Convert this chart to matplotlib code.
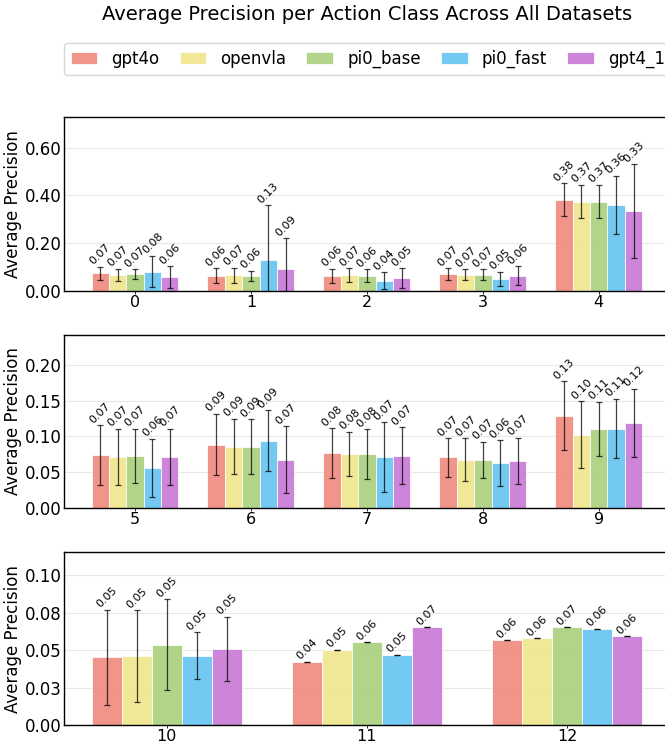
import matplotlib
matplotlib.use("Agg")
import matplotlib.pyplot as plt
import numpy as np
from matplotlib.ticker import MultipleLocator, StrMethodFormatter

# action classes and the model series
classes = list(range(13))
models = ['gpt4o', 'openvla', 'pi0_base', 'pi0_fast', 'gpt4_1']
colors = ['#F08A7E', '#F0E68C', '#AAD07C', '#64C4F0', '#C878D6']

# mean average precision per class
gpt4o_mean = [0.074, 0.064, 0.064, 0.071, 0.381, 0.0739, 0.0885, 0.0767, 0.0706, 0.129, 0.0452, 0.0423, 0.0568]
openvla_mean = [0.068, 0.066, 0.067, 0.067, 0.374, 0.0715, 0.0856, 0.0753, 0.0673, 0.102, 0.0461, 0.0503, 0.0579]
pi0_base_mean = [0.071, 0.064, 0.064, 0.068, 0.374, 0.0725, 0.0856, 0.0753, 0.0673, 0.1106, 0.0537, 0.0552, 0.0653]
pi0_fast_mean = [0.081, 0.130, 0.043, 0.050, 0.360, 0.056, 0.094, 0.071, 0.0626, 0.111, 0.0463, 0.047, 0.0642]
gpt4_1_mean = [0.057, 0.094, 0.053, 0.064, 0.334, 0.0715, 0.067, 0.073, 0.0654, 0.1186, 0.0508, 0.0653, 0.0595]

# standard deviation across datasets
gpt4o_std = [0.028, 0.031, 0.030, 0.025, 0.069, 0.0417, 0.043, 0.035, 0.027, 0.048, 0.0319, 0.0, 0.0]
openvla_std = [0.025, 0.031, 0.028, 0.023, 0.070, 0.039, 0.039, 0.031, 0.030, 0.047, 0.0307, 0.0, 0.0]
pi0_base_std = [0.019, 0.021, 0.027, 0.022, 0.070, 0.038, 0.0386, 0.035, 0.025, 0.038, 0.0305, 0.0, 0.0]
pi0_fast_std = [0.066, 0.229, 0.036, 0.030, 0.122, 0.041, 0.043, 0.049, 0.032, 0.042, 0.0155, 0.0, 0.0]
gpt4_1_std = [0.046, 0.126, 0.042, 0.040, 0.197, 0.039, 0.047, 0.040, 0.0325, 0.048, 0.0215, 0.0, 0.0]

means = np.array([gpt4o_mean, openvla_mean, pi0_base_mean, pi0_fast_mean, gpt4_1_mean])
stds = np.array([gpt4o_std, openvla_std, pi0_base_std, pi0_fast_std, gpt4_1_std])

panels = [classes[0:5], classes[5:10], classes[10:13]]
tick_steps = [0.2, 0.05, 0.025]
width = 0.15

fig = plt.figure(figsize=(6.65, 7.44), dpi=100)
boxes = [(0.0962, 0.6089, 0.911, 0.2338),
         (0.0962, 0.3176, 0.911, 0.2325),
         (0.0962, 0.0255, 0.911, 0.2322)]

for box, cls, step in zip(boxes, panels, tick_steps):
    ax = fig.add_axes(box)
    x = np.arange(len(cls))
    idx = np.array(cls)
    for j, m in enumerate(models):
        pos = x + (j - 2) * width
        mu = means[j, idx]
        sd = stds[j, idx]
        ax.bar(pos, mu, width, color=colors[j], alpha=0.9, edgecolor='white',
               linewidth=0.6, label=m, zorder=2)
        ax.errorbar(pos, mu, yerr=sd, fmt='none', ecolor='black', alpha=0.75,
                    elinewidth=0.9, capsize=2, capthick=0.9, zorder=3)
        for p, v, s in zip(pos, mu, sd):
            ax.text(p, v + s, f'{v:.2f}', rotation=45,
                    ha='center', va='bottom', fontsize=8)
    top = (means[:, idx] + stds[:, idx]).max() * 1.37
    ax.set_ylim(0, top)
    ax.set_xticks(x)
    ax.set_xticklabels([str(c) for c in cls], fontsize=11.5)
    ax.yaxis.set_major_locator(MultipleLocator(step))
    ax.yaxis.set_major_formatter(StrMethodFormatter('{x:.2f}'))
    ax.tick_params(axis='y', labelsize=12, length=0, pad=1.5)
    ax.tick_params(axis='x', length=2, width=0.6, pad=1)
    ax.grid(axis='y', color='#e8e8e8', linewidth=0.8)
    ax.set_axisbelow(True)
    ax.set_ylabel('Average Precision', fontsize=12, labelpad=2)
    for s in ax.spines.values():
        s.set_linewidth(1.0)

handles, labels = fig.axes[0].get_legend_handles_labels()
fig.legend(handles, labels, loc='upper left', bbox_to_anchor=(64 / 665, 1 - 43 / 744),
           ncol=5, fontsize=12, handlelength=1.6, columnspacing=1.2,
           handletextpad=0.85, borderaxespad=0)
fig.text(367 / 665, 1 - 15 / 744, 'Average Precision per Action Class Across All Datasets',
         ha='center', va='center', fontsize=14)

plt.savefig('out.png', dpi=100)
